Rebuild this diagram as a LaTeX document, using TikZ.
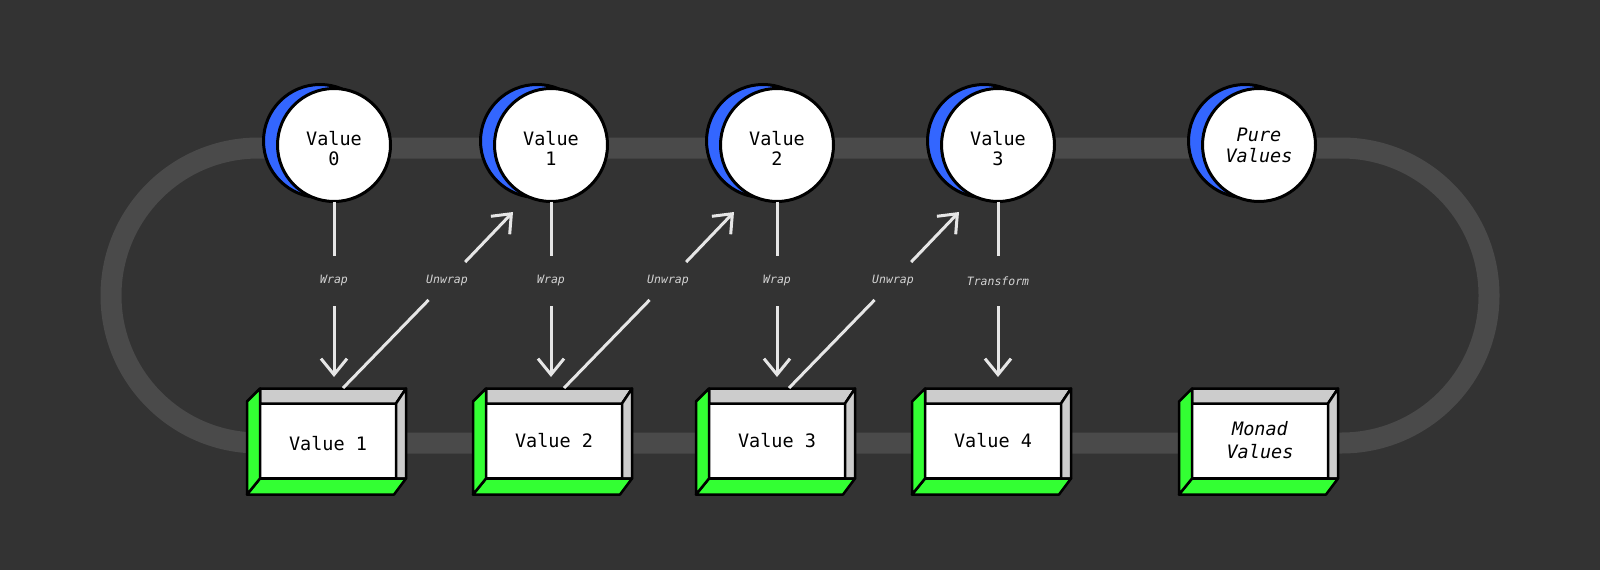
\documentclass[tikz,border=0pt]{standalone}
\usepackage{fontspec}
\setmonofont{DejaVu Sans Mono}
\usetikzlibrary{arrows.meta,calc}
\definecolor{bg}{HTML}{333333}
\definecolor{track}{HTML}{4A4A4A}
\definecolor{vblue}{HTML}{3366FF}
\definecolor{vgreen}{HTML}{33FF33}
\definecolor{vgray}{HTML}{CCCCCC}
\definecolor{arrowc}{HTML}{E6E6E6}
\definecolor{lblc}{HTML}{D4D4D4}
\newcommand\lowtext[2]{\raisebox{-#1}[\height][\depth]{\begin{tabular}{@{}c@{}}#2\end{tabular}}}
\tikzset{
  circ/.style={circle, draw=black, line width=3, fill=white, minimum size=113, inner sep=0, outer sep=0,
    font=\ttfamily\fontsize{18.5}{20}\selectfont},
  bluecirc/.style={circle, draw=black, line width=3, fill=vblue, minimum size=113, inner sep=0, outer sep=0},
  frontbox/.style={rectangle, draw=black, line width=2.5, fill=white, minimum width=136, minimum height=75,
    inner sep=0, outer sep=0, font=\ttfamily\fontsize{18.5}{23}\selectfont},
  face/.style={draw=black, line width=2.5, line join=round},
  wraplbl/.style={inner sep=0, outer sep=0, minimum height=50, text=lblc,
    font=\ttfamily\itshape\fontsize{11.5}{12}\selectfont},
  unwraplbl/.style={inner xsep=3, inner ysep=0, outer sep=0, minimum height=38, minimum width=38, text=lblc,
    font=\ttfamily\itshape\fontsize{11.5}{12}\selectfont},
  conn/.style={draw=arrowc, line width=3},
  arr/.style={conn, -{Straight Barb[length=16, width=26, line width=3]}},
}
\newcommand\monadbox[4]{%
  \node[frontbox] (#1) at (#2,#3) {#4};
  \filldraw[face, fill=vgray] (#1.north west) -- ($(#1.north west)+(0,-15)$) -- ($(#1.north east)+(10,-15)$) -- (#1.north east) -- cycle;
  \filldraw[face, fill=vgray] (#1.north east) -- ($(#1.north east)+(10,-15)$) -- ($(#1.south east)+(10,0)$) -- (#1.south east) -- cycle;
  \filldraw[face, fill=vgreen] (#1.south west) -- ($(#1.south east)+(10,0)$) -- ($(#1.south east)+(-2,16)$) -- ($(#1.south west)+(-13,16)$) -- cycle;
  \filldraw[face, fill=vgreen] ($(#1.north west)+(0,-15)$) -- ($(#1.north west)+(-13,-2)$) -- ($(#1.south west)+(-13,16)$) -- (#1.south west) -- cycle;
}
\begin{document}
\begin{tikzpicture}[x=1pt, y=-1pt]
\fill[bg] (0,0) rectangle (1600,570);
\useasboundingbox (0,0) rectangle (1600,570);
% track
\draw[track, line width=21, rounded corners=147.5] (111,148) rectangle (1489,443);
% circles
\node[bluecirc] (bc0) at (320,141) {};
\node[circ] (c0) at (334,145) {\lowtext{6pt}{Value\\0}};
\node[bluecirc] (bc1) at (537,141) {};
\node[circ] (c1) at (551,145) {\lowtext{6pt}{Value\\1}};
\node[bluecirc] (bc2) at (763,141) {};
\node[circ] (c2) at (777,145) {\lowtext{6pt}{Value\\2}};
\node[bluecirc] (bc3) at (984,141) {};
\node[circ] (c3) at (998,145) {\lowtext{6pt}{Value\\3}};
\node[bluecirc] (bc4) at (1245,141) {};
\node[circ, font=\ttfamily\itshape\fontsize{18.5}{20}\selectfont] (c4) at (1259,145) {\lowtext{3pt}{Pure\\Values}};
% boxes
\monadbox{m1}{328}{441}{\lowtext{5pt}{Value 1}}
\monadbox{m2}{554}{441}{Value 2}
\monadbox{m3}{777}{441}{Value 3}
\monadbox{m4}{993}{441}{Value 4}
\monadbox{m5}{1260}{441}{\itshape\lowtext{1pt}{Monad\\Values}}
% wrap arrows
\node[wraplbl] (w0) at (334,281) {Wrap};
\node[wraplbl] (w1) at (551,281) {Wrap};
\node[wraplbl] (w2) at (777,281) {Wrap};
\node[wraplbl] (w3) at (998,281) {Transform};
\coordinate (t0) at (334,377);
\coordinate (t1) at (551,377);
\coordinate (t2) at (777,377);
\coordinate (t3) at (998,377);
\foreach \i in {0,1,2,3} {
  \draw[conn] (c\i) -- (w\i);
  \draw[arr] (w\i) -- (t\i);
}
% unwrap arrows
\coordinate (us1) at (343,388);
\coordinate (us2) at (564,388);
\coordinate (us3) at (789,388);
\node[unwraplbl] (u1) at (447,281) {Unwrap};
\node[unwraplbl] (u2) at (668,281) {Unwrap};
\node[unwraplbl] (u3) at (893,281) {Unwrap};
\coordinate (ut1) at (513,212);
\coordinate (ut2) at (734,212);
\coordinate (ut3) at (959,212);
\foreach \i in {1,2,3} {
  \draw[conn] (us\i) -- (u\i);
  \draw[arr] (u\i) -- (ut\i);
}
\end{tikzpicture}
\end{document}
